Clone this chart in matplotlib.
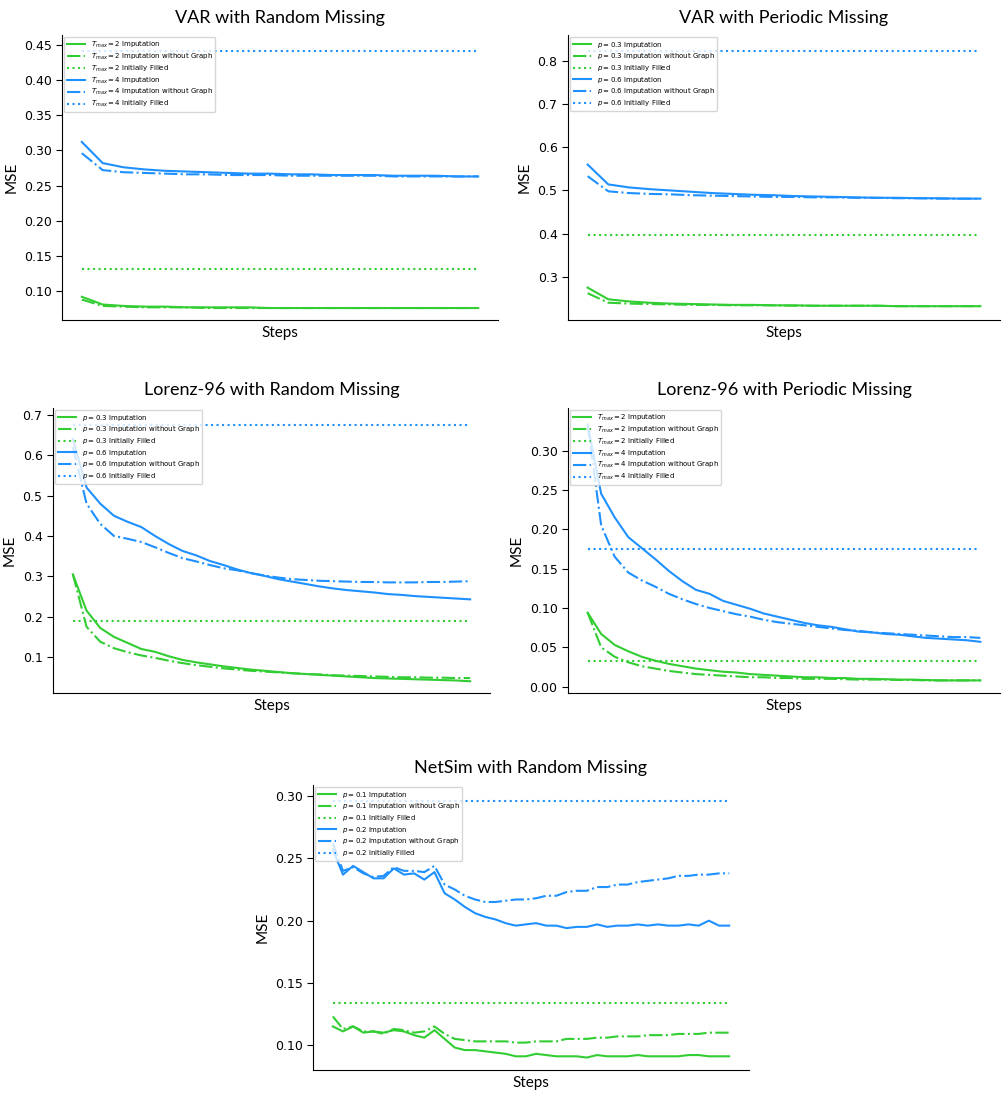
import numpy as np
import matplotlib
matplotlib.use("Agg")
import matplotlib.pyplot as plt

GREEN = "#32CD32"
BLUE = "#1E90FF"

# ---------------- data ----------------
# Panel 1: VAR with Random Missing (20 steps)
var_rand_g_imp = [0.092, 0.081, 0.079, 0.078, 0.078, 0.077, 0.077, 0.077, 0.077, 0.076,
                  0.076, 0.076, 0.076, 0.076, 0.076, 0.076, 0.076, 0.076, 0.076, 0.076]
var_rand_g_nog = [0.088, 0.079, 0.078, 0.077, 0.077, 0.077, 0.076, 0.076, 0.076, 0.076,
                  0.076, 0.076, 0.076, 0.076, 0.076, 0.076, 0.076, 0.076, 0.076, 0.076]
var_rand_g_init = 0.131
var_rand_b_imp = [0.312, 0.282, 0.276, 0.273, 0.271, 0.270, 0.269, 0.268, 0.267, 0.267,
                  0.266, 0.266, 0.265, 0.265, 0.265, 0.264, 0.264, 0.264, 0.263, 0.263]
var_rand_b_nog = [0.296, 0.272, 0.269, 0.268, 0.267, 0.266, 0.266, 0.265, 0.265, 0.265,
                  0.264, 0.264, 0.264, 0.264, 0.264, 0.263, 0.263, 0.263, 0.263, 0.263]
var_rand_b_init = 0.441

# Panel 2: VAR with Periodic Missing (20 steps)
var_per_g_imp = [0.275, 0.248, 0.243, 0.240, 0.238, 0.237, 0.236, 0.235, 0.235, 0.234,
                 0.234, 0.233, 0.233, 0.233, 0.233, 0.232, 0.232, 0.232, 0.232, 0.232]
var_per_g_nog = [0.262, 0.240, 0.238, 0.237, 0.236, 0.235, 0.235, 0.234, 0.234, 0.234,
                 0.233, 0.233, 0.233, 0.233, 0.233, 0.232, 0.232, 0.232, 0.232, 0.232]
var_per_g_init = 0.397
var_per_b_imp = [0.560, 0.514, 0.507, 0.503, 0.500, 0.497, 0.494, 0.492, 0.490, 0.489,
                 0.487, 0.486, 0.485, 0.484, 0.483, 0.483, 0.482, 0.482, 0.481, 0.481]
var_per_b_nog = [0.533, 0.498, 0.494, 0.492, 0.491, 0.489, 0.488, 0.487, 0.486, 0.485,
                 0.485, 0.484, 0.484, 0.483, 0.483, 0.482, 0.482, 0.481, 0.481, 0.481]
var_per_b_init = 0.822

# Panel 3: Lorenz-96 with Random Missing (30 steps)
lz_rand_g_imp = [0.305, 0.215, 0.172, 0.150, 0.135, 0.120, 0.113, 0.102, 0.093, 0.087,
                 0.082, 0.077, 0.073, 0.069, 0.066, 0.063, 0.060, 0.058, 0.056, 0.054,
                 0.052, 0.050, 0.048, 0.047, 0.046, 0.045, 0.044, 0.043, 0.042, 0.040]
lz_rand_g_nog = [0.305, 0.175, 0.138, 0.122, 0.112, 0.104, 0.098, 0.091, 0.085, 0.080,
                 0.076, 0.072, 0.069, 0.066, 0.064, 0.062, 0.060, 0.058, 0.057, 0.055,
                 0.054, 0.053, 0.052, 0.051, 0.050, 0.050, 0.049, 0.049, 0.048, 0.048]
lz_rand_g_init = 0.189
lz_rand_b_imp = [0.640, 0.520, 0.480, 0.450, 0.435, 0.422, 0.400, 0.380, 0.363, 0.352,
                 0.338, 0.328, 0.317, 0.308, 0.301, 0.293, 0.287, 0.281, 0.275, 0.270,
                 0.266, 0.263, 0.260, 0.256, 0.254, 0.251, 0.249, 0.247, 0.245, 0.243]
lz_rand_b_nog = [0.620, 0.480, 0.430, 0.400, 0.393, 0.385, 0.372, 0.358, 0.345, 0.337,
                 0.328, 0.320, 0.315, 0.308, 0.302, 0.297, 0.293, 0.291, 0.289, 0.288,
                 0.287, 0.286, 0.286, 0.285, 0.285, 0.285, 0.286, 0.286, 0.287, 0.288]
lz_rand_b_init = 0.675

# Panel 4: Lorenz-96 with Periodic Missing (30 steps)
lz_per_g_imp = [0.094, 0.067, 0.053, 0.045, 0.038, 0.033, 0.029, 0.026, 0.023, 0.021,
                0.019, 0.018, 0.016, 0.015, 0.014, 0.013, 0.012, 0.012, 0.011, 0.011,
                0.010, 0.010, 0.0095, 0.009, 0.009, 0.0085, 0.008, 0.008, 0.008, 0.008]
lz_per_g_nog = [0.094, 0.050, 0.038, 0.031, 0.026, 0.023, 0.020, 0.018, 0.016, 0.015,
                0.014, 0.013, 0.012, 0.012, 0.011, 0.011, 0.010, 0.010, 0.010, 0.0095,
                0.009, 0.009, 0.009, 0.0085, 0.0085, 0.008, 0.008, 0.008, 0.008, 0.008]
lz_per_g_init = 0.033
lz_per_b_imp = [0.333, 0.245, 0.215, 0.190, 0.176, 0.162, 0.147, 0.134, 0.123, 0.118,
                0.109, 0.104, 0.099, 0.093, 0.089, 0.085, 0.081, 0.078, 0.076, 0.073,
                0.070, 0.069, 0.067, 0.066, 0.064, 0.062, 0.061, 0.060, 0.059, 0.057]
lz_per_b_nog = [0.333, 0.205, 0.165, 0.145, 0.135, 0.127, 0.118, 0.111, 0.105, 0.100,
                0.096, 0.092, 0.089, 0.085, 0.082, 0.080, 0.078, 0.076, 0.074, 0.072,
                0.071, 0.069, 0.068, 0.067, 0.066, 0.065, 0.064, 0.063, 0.063, 0.062]
lz_per_b_init = 0.175

# Panel 5: NetSim with Random Missing (40 steps)
ns_g_imp = [0.115, 0.111, 0.115, 0.110, 0.111, 0.110, 0.112, 0.111, 0.108, 0.106,
            0.112, 0.105, 0.098, 0.096, 0.096, 0.095, 0.094, 0.093, 0.091, 0.091,
            0.093, 0.092, 0.091, 0.091, 0.091, 0.090, 0.092, 0.091, 0.091, 0.091,
            0.092, 0.091, 0.091, 0.091, 0.091, 0.092, 0.092, 0.091, 0.091, 0.091]
ns_g_nog = [0.123, 0.113, 0.115, 0.111, 0.111, 0.109, 0.113, 0.112, 0.110, 0.111,
            0.115, 0.109, 0.105, 0.104, 0.103, 0.103, 0.103, 0.103, 0.102, 0.102,
            0.103, 0.103, 0.103, 0.105, 0.105, 0.105, 0.106, 0.106, 0.107, 0.107,
            0.107, 0.108, 0.108, 0.108, 0.109, 0.109, 0.109, 0.110, 0.110, 0.110]
ns_g_init = 0.134
ns_b_imp = [0.257, 0.237, 0.244, 0.239, 0.234, 0.234, 0.242, 0.237, 0.238, 0.233,
            0.239, 0.222, 0.217, 0.211, 0.206, 0.203, 0.201, 0.198, 0.196, 0.197,
            0.198, 0.196, 0.196, 0.194, 0.195, 0.195, 0.197, 0.195, 0.196, 0.196,
            0.197, 0.196, 0.197, 0.196, 0.196, 0.197, 0.196, 0.200, 0.196, 0.196]
ns_b_nog = [0.262, 0.240, 0.243, 0.238, 0.235, 0.236, 0.243, 0.240, 0.240, 0.239,
            0.244, 0.229, 0.225, 0.220, 0.217, 0.215, 0.215, 0.216, 0.217, 0.217,
            0.218, 0.220, 0.220, 0.223, 0.224, 0.224, 0.227, 0.227, 0.229, 0.229,
            0.231, 0.232, 0.233, 0.234, 0.236, 0.236, 0.237, 0.237, 0.238, 0.238]
ns_b_init = 0.296

# labels
tmax_labels = [r"$T_{max}=2$", r"$T_{max}=4$"]
p36_labels = [r"$p=0.3$", r"$p=0.6$"]
p12_labels = [r"$p=0.1$", r"$p=0.2$"]

W, H = 1002, 1093
fig = plt.figure(figsize=(W / 100, H / 100), dpi=100)

TITLE_FONT = "Lato"


def rect(l, t, r, b):
    return [l / W, 1 - b / H, (r - l) / W, (b - t) / H]


def panel(r, title, labels, g_imp, g_nog, g_init, b_imp, b_nog, b_init,
          ylim, yticks, fmt):
    ax = fig.add_axes(rect(*r))
    x = np.arange(1, len(g_imp) + 1)
    series = [
        (g_imp, "-", GREEN, f"{labels[0]} Imputation"),
        (g_nog, "-.", GREEN, f"{labels[0]} Imputation without Graph"),
        ([g_init] * len(x), ":", GREEN, f"{labels[0]} Initially Filled"),
        (b_imp, "-", BLUE, f"{labels[1]} Imputation"),
        (b_nog, "-.", BLUE, f"{labels[1]} Imputation without Graph"),
        ([b_init] * len(x), ":", BLUE, f"{labels[1]} Initially Filled"),
    ]
    for y, ls, c, lab in series:
        ax.plot(x, y, ls, color=c, lw=1.5, label=lab)
    ax.set_ylim(*ylim)
    ax.set_yticks(yticks)
    ax.set_yticklabels([fmt.format(v) for v in yticks])
    ax.set_xticks([])
    ax.tick_params(axis="y", labelsize=9, length=4)
    for s in ["top", "right"]:
        ax.spines[s].set_visible(False)
    ax.set_xlabel("Steps", fontsize=11, family=TITLE_FONT, labelpad=4)
    ax.set_ylabel("MSE", fontsize=11, family=TITLE_FONT)
    ax.set_title(title, fontsize=13, family=TITLE_FONT, pad=9)
    ax.legend(loc="upper left", fontsize=5, handlelength=2.6,
              borderaxespad=0.3, labelspacing=0.25, handletextpad=0.9,
              borderpad=0.35)
    return ax


panel((62, 35, 498, 320), "VAR with Random Missing", tmax_labels,
      var_rand_g_imp, var_rand_g_nog, var_rand_g_init,
      var_rand_b_imp, var_rand_b_nog, var_rand_b_init,
      (0.059, 0.464), [0.10, 0.15, 0.20, 0.25, 0.30, 0.35, 0.40, 0.45], "{:.2f}")

panel((568, 35, 1000, 320), "VAR with Periodic Missing", p36_labels,
      var_per_g_imp, var_per_g_nog, var_per_g_init,
      var_per_b_imp, var_per_b_nog, var_per_b_init,
      (0.20, 0.86), [0.3, 0.4, 0.5, 0.6, 0.7, 0.8], "{:.1f}")

panel((53, 408, 490, 693), "Lorenz-96 with Random Missing", p36_labels,
      lz_rand_g_imp, lz_rand_g_nog, lz_rand_g_init,
      lz_rand_b_imp, lz_rand_b_nog, lz_rand_b_init,
      (0.011, 0.717), [0.1, 0.2, 0.3, 0.4, 0.5, 0.6, 0.7], "{:.1f}")

panel((568, 408, 1000, 693), "Lorenz-96 with Periodic Missing", tmax_labels,
      lz_per_g_imp, lz_per_g_nog, lz_per_g_init,
      lz_per_b_imp, lz_per_b_nog, lz_per_b_init,
      (-0.008, 0.354), [0.00, 0.05, 0.10, 0.15, 0.20, 0.25, 0.30], "{:.2f}")

panel((313, 785, 749, 1070), "NetSim with Random Missing", p12_labels,
      ns_g_imp, ns_g_nog, ns_g_init,
      ns_b_imp, ns_b_nog, ns_b_init,
      (0.080, 0.309), [0.10, 0.15, 0.20, 0.25, 0.30], "{:.2f}")

fig.savefig("out.png", dpi=100)
